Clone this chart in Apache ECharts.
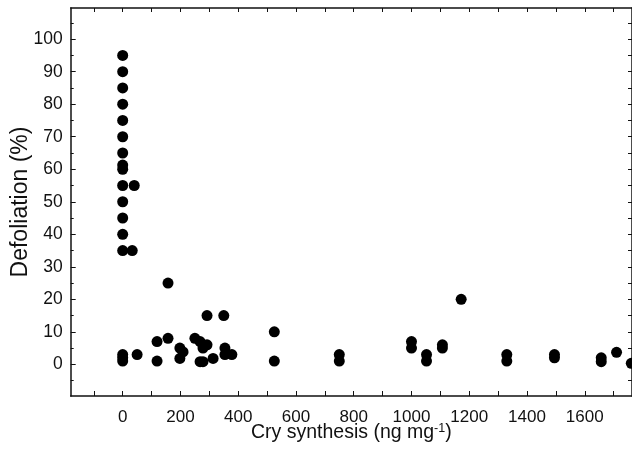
<!DOCTYPE html>
<html>
<head>
<meta charset="utf-8">
<script src="https://cdn.jsdelivr.net/npm/echarts@6/dist/echarts.min.js"></script>
<style>
html,body{margin:0;padding:0;background:#fff;}
#chart{width:632px;height:452px;}
</style>
</head>
<body>
<div id="chart"></div>
<script>
// Cry synthesis (ng mg-1) and defoliation (%) for each observation
const cryX = [
  0,0,0,0,0,0,0,0,0,0,0,0,0,0,
  40,33,
  0,0,0,
  50,
  157,
  292,350,
  119,119,
  157,
  198,209,198,
  250,268,
  292,278,268,278,
  313,
  354,354,378,
  525,525,
  750,750,
  1000,1000,
  1052,1052,
  1107,1107,
  1172,
  1330,1330,
  1495,1495,
  1657,1657,
  1710,
  1761
];
const defoliationY = [
  95,90,85,80,75,70,65,60,61.3,55,50,45,40,35,
  55,35,
  1,2,3,
  3,
  25,
  15,15,
  7,1,
  8,
  5,3.8,1.8,
  8,7,
  6,5,0.8,0.8,
  1.8,
  5,3,3,
  10,1,
  3,1,
  7,5,
  3,1,
  6,5,
  20,
  3,1,
  3,2,
  2,0.8,
  3.7,
  0.3
];
const xLabelValues = [0,200,400,600,800,1000,1200,1400,1600];
const xTickValues = [-100,0,100,200,300,400,500,600,700,800,900,1000,1100,1200,1300,1400,1500,1600,1700];
const yLabelValues = [0,10,20,30,40,50,60,70,80,90,100];
const yMinorTickValues = [-5,5,15,25,35,45,55,65,75,85,95,105];

const points = cryX.map((x, i) => [x, defoliationY[i]]);

const X_MIN = -180, X_MAX = 1763.5, Y_MIN = -9.75, Y_MAX = 109.6;
const lineStyle = {color: '#111', width: 1.5};
const font = 'Liberation Sans, Arial, sans-serif';
const plain = v => String(v);

const chart = echarts.init(document.getElementById('chart'), null, {renderer: 'canvas'});
chart.setOption({
  animation: false,
  backgroundColor: '#fff',
  grid: {left: 70.7, top: 8, right: 0, bottom: 56, containLabel: false, outerBoundsMode: 'none'},
  xAxis: [
    {
      type: 'value', position: 'bottom', min: X_MIN, max: X_MAX,
      axisLine: {show: true, onZero: false, lineStyle: lineStyle},
      axisTick: {show: true, inside: true, length: 5, customValues: xTickValues, lineStyle: {color: '#111', width: 1}},
      axisLabel: {show: true, customValues: xLabelValues, formatter: plain, margin: 13, color: '#111', fontSize: 17, fontFamily: font},
      splitLine: {show: false},
      name: 'Cry synthesis (ng mg{sup|-1})',
      nameLocation: 'middle', nameGap: 26, nameMoveOverlap: false,
      nameTextStyle: {color: '#111', fontSize: 19.5, fontFamily: font,
        rich: {sup: {fontSize: 12.5, fontFamily: font, color: '#111', verticalAlign: 'top', padding: [0, 0, 9, 0]}}}
    },
    {
      type: 'value', position: 'top', min: X_MIN, max: X_MAX,
      axisLine: {show: true, onZero: false, lineStyle: lineStyle},
      axisTick: {show: true, inside: true, length: 4, customValues: xTickValues, lineStyle: {color: '#111', width: 1}},
      axisLabel: {show: false},
      splitLine: {show: false}
    }
  ],
  yAxis: [
    {
      type: 'value', position: 'left', min: Y_MIN, max: Y_MAX,
      axisLine: {show: true, onZero: false, lineStyle: lineStyle},
      axisTick: {show: true, inside: true, length: 5, customValues: yLabelValues, lineStyle: {color: '#111', width: 1}},
      axisLabel: {show: true, customValues: yLabelValues, formatter: plain, margin: 8, color: '#111', fontSize: 17.5, fontFamily: font},
      splitLine: {show: false},
      name: 'Defoliation (%)',
      nameLocation: 'middle', nameGap: 39, nameMoveOverlap: false,
      nameTextStyle: {color: '#111', fontSize: 23, fontFamily: font}
    },
    {
      type: 'value', position: 'left', min: Y_MIN, max: Y_MAX,
      axisLine: {show: false, onZero: false},
      axisTick: {show: true, inside: true, length: 3, customValues: yMinorTickValues, lineStyle: {color: '#111', width: 1}},
      axisLabel: {show: false},
      splitLine: {show: false}
    },
    {
      type: 'value', position: 'right', min: Y_MIN, max: Y_MAX,
      axisLine: {show: true, onZero: false, lineStyle: lineStyle},
      axisTick: {show: true, inside: true, length: 4, customValues: yLabelValues.concat(yMinorTickValues), lineStyle: {color: '#111', width: 1}},
      axisLabel: {show: false},
      splitLine: {show: false}
    }
  ],
  series: [{
    type: 'scatter',
    xAxisIndex: 0, yAxisIndex: 0,
    data: points,
    symbol: 'circle',
    symbolSize: 11,
    itemStyle: {color: '#000', opacity: 1},
    emphasis: {disabled: true}
  }]
});
</script>
</body>
</html>
